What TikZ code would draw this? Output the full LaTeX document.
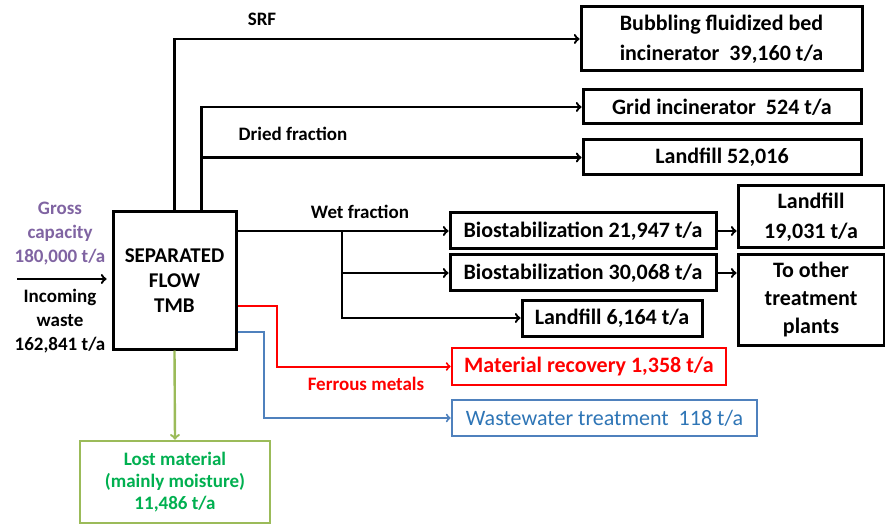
\documentclass[tikz,border=0pt]{standalone}
\usepackage{fontspec}
\setmainfont{Carlito}
\usetikzlibrary{arrows,positioning,calc}
\definecolor{capviolet}{HTML}{8064A2}
\definecolor{ferrred}{HTML}{FF0000}
\definecolor{wwline}{HTML}{4F81BD}
\definecolor{wwtext}{HTML}{2E75B6}
\definecolor{lostline}{HTML}{9BBB59}
\definecolor{losttext}{HTML}{00B050}
\tikzset{
flowbox/.style={rectangle,draw=black,line width=3pt,fill=white,align=center,
  font=\fontsize{22}{30}\selectfont\bfseries,inner sep=2pt},
flowarr/.style={line width=2.4pt,->,>=to},
flowlabel/.style={font=\fontsize{19}{24}\selectfont\bfseries,align=center,inner sep=0pt},
redbox/.style={flowbox,draw=ferrred,text=ferrred,line width=2.6pt},
bluebox/.style={flowbox,draw=wwline,text=wwtext,line width=2.6pt,font=\fontsize{22}{30}\selectfont},
greenbox/.style={flowbox,draw=lostline,text=losttext,line width=2.6pt,font=\fontsize{19}{22}\selectfont\bfseries}
}
\begin{document}
\begin{tikzpicture}[x=1pt,y=-1pt]
\useasboundingbox (0,0) rectangle (885,526);
% plant and destinations
\node[flowbox,minimum width=123pt,minimum height=137pt,font=\fontsize{21}{25}\selectfont\bfseries] (tmb) at (174.5,280.5) {SEPARATED\\FLOW\\TMB};
\node[flowbox,minimum width=281pt,minimum height=64pt] (bub) at (721.5,39) {Bubbling fluidized bed\\incinerator\ \ 39,160 t/a};
\node[flowbox,minimum width=278pt,minimum height=34pt] (grid) at (722,107) {Grid incinerator\ \ 524 t/a};
\node[flowbox,minimum width=278pt,minimum height=35pt] (land52) at (722,157.5) {Landfill 52,016};
\node[flowbox,minimum width=266pt,minimum height=36pt] (bio1) at (583,231) {Biostabilization 21,947 t/a};
\node[flowbox,minimum width=266pt,minimum height=36pt] (bio2) at (583,273) {Biostabilization 30,068 t/a};
\node[flowbox,minimum width=180pt,minimum height=36pt] (land6) at (612,318) {Landfill 6,164 t/a};
\node[flowbox,minimum width=146pt,minimum height=62pt] (land19) at (811,217) {Landfill\\19,031 t/a};
\node[flowbox,minimum width=146pt,minimum height=90pt,font=\fontsize{22}{28}\selectfont\bfseries] (other) at (811,300) {To other\\treatment\\plants};
\node[redbox,minimum width=274pt,minimum height=37pt] (matrec) at (589,366.5) {Material recovery 1,358 t/a};
\node[bluebox,minimum width=305pt,minimum height=36pt] (waste) at (604.5,418) {Wastewater treatment\ \ 118 t/a};
\node[greenbox,minimum width=190pt,minimum height=82pt] (lost) at (175,482) {Lost material\\(mainly moisture)\\11,486 t/a};
% labels
\node[flowlabel,text=capviolet] (gross) at (60,234) {Gross\\capacity\\180,000 t/a};
\node[flowlabel] (incoming) at (60,321) {Incoming\\waste\\162,841 t/a};
\node[flowlabel] (srf) at (262,19) {SRF};
\node[flowlabel] (dried) at (293,134) {Dried fraction};
\node[flowlabel] (wet) at (360,212) {Wet fraction};
\node[flowlabel,text=ferrred] (ferrous) at (366,384) {Ferrous metals};
% connectors
\coordinate (inflow) at (17,279);
\coordinate (dryup) at ($(tmb.north)+(27,0)$);
\coordinate (wetsplit) at (342,231);
\draw[flowarr,shorten >=5pt] (inflow) -- (tmb.west |- inflow);
\draw[flowarr] (tmb.north) |- (bub.west);
\draw[flowarr] (dryup) |- (grid.west);
\draw[flowarr] (dryup |- land52.west) -- (land52.west);
\draw[flowarr] (tmb.east |- bio1.west) -- (bio1.west);
\foreach \b in {bio2,land6} \draw[flowarr] (wetsplit) |- (\b.west);
\draw[flowarr] (bio1.east) -- (bio1.east -| land19.west);
\draw[flowarr] (bio2.east) -- (bio2.east -| other.west);
\draw[flowarr,ferrred,line width=2pt] ($(tmb.east)+(0,25.5)$) -- ++(39,0) |- (matrec.west);
\draw[flowarr,wwline,line width=2pt] ($(tmb.east)+(0,51.5)$) -- ++(26,0) |- (waste.west);
\draw[flowarr,lostline,line width=2.4pt] (tmb.south) -- (lost.north);
\end{tikzpicture}
\end{document}
